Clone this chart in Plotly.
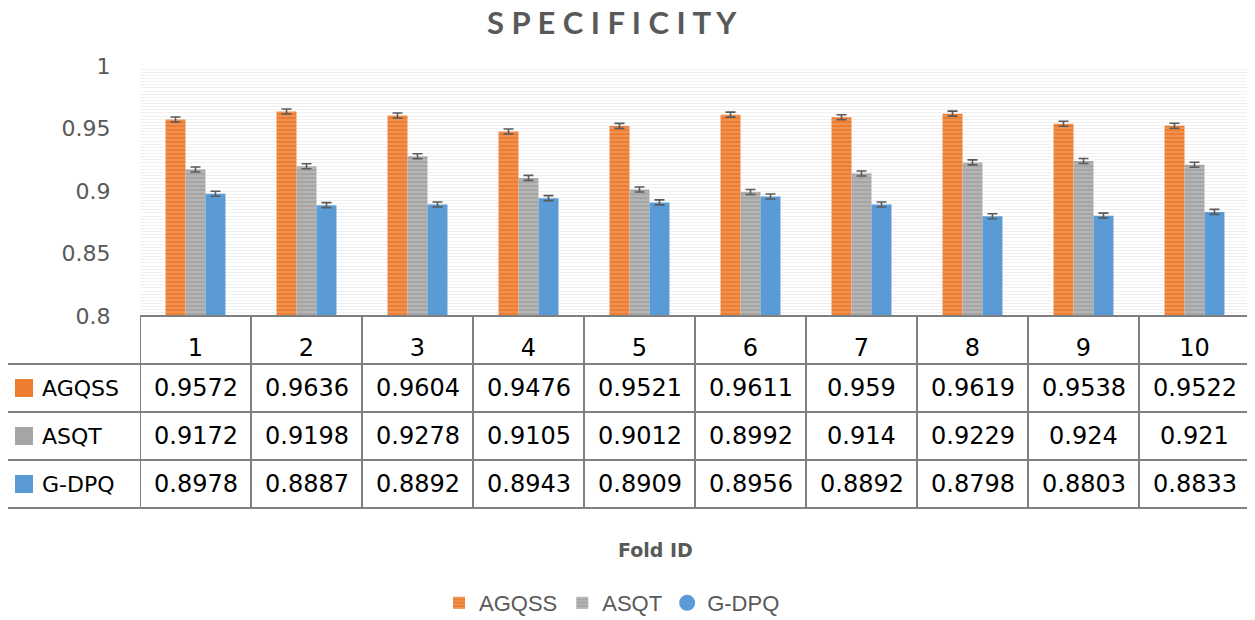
import plotly.graph_objects as go

folds = ["1", "2", "3", "4", "5", "6", "7", "8", "9", "10"]
series_names = ["AGQSS", "ASQT", "G-DPQ"]
agqss = [0.9572, 0.9636, 0.9604, 0.9476, 0.9521, 0.9611, 0.959, 0.9619, 0.9538, 0.9522]
asqt = [0.9172, 0.9198, 0.9278, 0.9105, 0.9012, 0.8992, 0.914, 0.9229, 0.924, 0.921]
gdpq = [0.8978, 0.8887, 0.8892, 0.8943, 0.8909, 0.8956, 0.8892, 0.8798, 0.8803, 0.8833]
errors = [0.002, 0.002, 0.002]
y_ticks = [0.8, 0.85, 0.9, 0.95, 1.0]
y_tick_text = ["0.8", "0.85", "0.9", "0.95", "1"]
title_text = "SPECIFICITY"

values = [agqss, asqt, gdpq]
colors = ["#ed7d31", "#a5a5a5", "#5b9bd5"]
stripe = ["#f6b88f", "#d4d4d4", None]

# page offset of the figure div (default body margin)
OFF = 8
W, H = 1255 - OFF, 620 - OFF
L, T = 140 - OFF, 66 - OFF
R = W - (1250 - OFF)
B = H - (316 - OFF)
PW = W - L - R
PH = H - T - B


def px_x(X):
    return (X - OFF - L) / PW


def px_y(Y):
    return (H - B - (Y - OFF)) / PH


fig = go.Figure()
for name, vals, col, st, e in zip(series_names, values, colors, stripe, errors):
    marker = dict(color=col, line=dict(width=0))
    if st:
        marker["pattern"] = dict(shape="-", fgcolor=st, bgcolor=col, size=4, solidity=0.35)
    fig.add_trace(go.Bar(
        x=folds, y=vals, name=name, marker=marker,
        showlegend=(st is not None),
        error_y=dict(type="data", array=[e] * len(vals), color="#5a5a5a", thickness=1.6, width=5),
    ))

# legend entry with a round marker for G-DPQ (as in the reference)
fig.add_trace(go.Scatter(
    x=[None], y=[None], mode="markers", name=series_names[2],
    marker=dict(symbol="circle", size=17, color=colors[2]), showlegend=True,
))

shapes = []
line_col = "#7f7f7f"
n = len(folds)
for i in range(n + 1):
    shapes.append(dict(type="line", xref="x", yref="paper", x0=i - 0.5, x1=i - 0.5,
                       y0=px_y(316), y1=px_y(508), line=dict(color=line_col, width=2)))
shapes.append(dict(type="line", xref="paper", yref="paper", x0=px_x(3), x1=px_x(3),
                   y0=px_y(364), y1=px_y(508), line=dict(color=line_col, width=2)))
shapes.append(dict(type="line", xref="paper", yref="paper", x0=0, x1=1,
                   y0=px_y(316), y1=px_y(316), line=dict(color=line_col, width=2)))
for Y in [364, 412, 460, 508]:
    shapes.append(dict(type="line", xref="paper", yref="paper", x0=px_x(3), x1=1,
                       y0=px_y(Y), y1=px_y(Y), line=dict(color=line_col, width=2)))

annotations = []
row_centers = [388, 436, 484]
for r, (name, vals, col) in enumerate(zip(series_names, values, colors)):
    Yc = row_centers[r]
    shapes.append(dict(type="rect", xref="paper", yref="paper",
                       x0=px_x(15), x1=px_x(33), y0=px_y(Yc + 9), y1=px_y(Yc - 9),
                       fillcolor=col, line=dict(width=0)))
    annotations.append(dict(xref="paper", yref="paper", x=px_x(40), y=px_y(Yc),
                            xanchor="left", yanchor="middle", text=name, showarrow=False,
                            font=dict(family="DejaVu Sans", size=22, color="#000000")))
    for i, v in enumerate(vals):
        annotations.append(dict(xref="x", yref="paper", x=i, y=px_y(Yc),
                                xanchor="center", yanchor="middle", text=str(v), showarrow=False,
                                font=dict(family="DejaVu Sans", size=24, color="#000000")))

annotations.append(dict(xref="paper", yref="paper", x=px_x(655), y=px_y(550),
                        xanchor="center", yanchor="middle", text="<b>Fold ID</b>", showarrow=False,
                        font=dict(family="DejaVu Sans", size=19, color="#595959")))

# chart title with letter spacing
annotations.append(dict(xref="paper", yref="paper", x=px_x(612), y=px_y(22),
                        xanchor="center", yanchor="middle", text="<b>" + " ".join(title_text) + "</b>",
                        showarrow=False,
                        font=dict(family="Lato", size=31, color="#595959")))

fig.update_layout(
    width=W, height=H,
    margin=dict(l=L, r=R, t=T, b=B, pad=0, autoexpand=False),
    paper_bgcolor="white", plot_bgcolor="white",
    barmode="group", bargap=0.46, bargroupgap=0,
    shapes=shapes, annotations=annotations,
    legend=dict(orientation="h", x=px_x(612), xanchor="center", y=px_y(603), yanchor="middle",
                font=dict(family="Liberation Sans", size=22, color="#595959"),
                traceorder="normal", itemwidth=30),
    xaxis=dict(type="category", range=[-0.5, n - 0.5], showgrid=False, zeroline=False,
               showline=False, ticks="outside", ticklen=10, tickcolor="rgba(0,0,0,0)",
               tickfont=dict(family="DejaVu Sans", size=24, color="#000000")),
    yaxis=dict(range=[0.8, 1.0], tickvals=y_ticks, ticktext=y_tick_text,
               showgrid=True, gridcolor="#efefef", gridwidth=1, zeroline=False, showline=False,
               ticks="outside", ticklen=24, tickcolor="rgba(0,0,0,0)",
               tickfont=dict(family="DejaVu Sans", size=22, color="#595959"),
               minor=dict(dtick=0.0025, showgrid=True, gridcolor="#f0f0f0", gridwidth=1)),
)

fig.write_html("out.html")
